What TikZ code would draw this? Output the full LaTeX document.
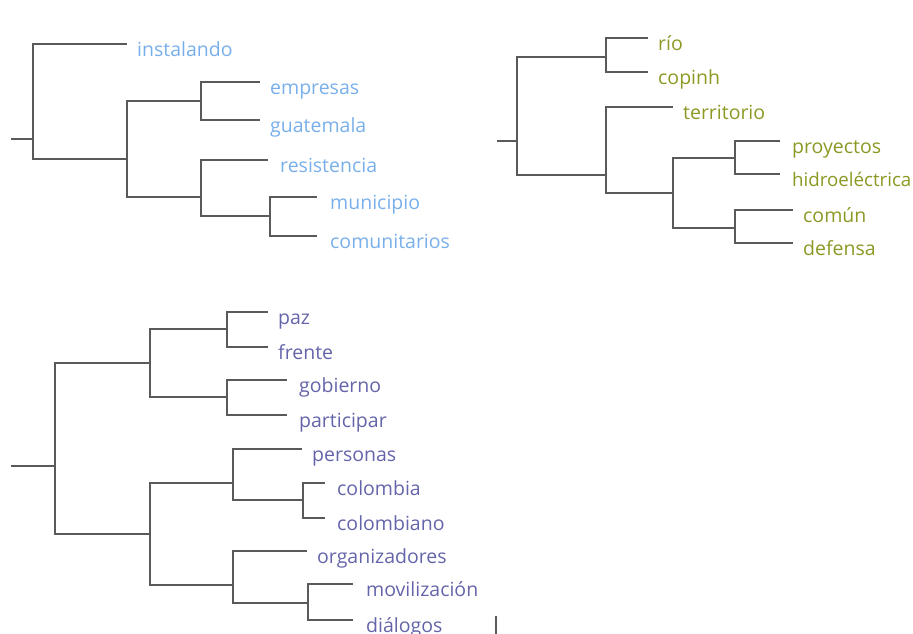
\documentclass[tikz,border=0pt]{standalone}
\usepackage{fontspec}
\setmainfont{Open Sans}
\usepackage{tikz}
\usetikzlibrary{positioning,calc}
\definecolor{myblue}{RGB}{120,175,235}
\definecolor{myolive}{RGB}{140,152,35}
\definecolor{mypurple}{RGB}{100,100,170}
\definecolor{mygray}{RGB}{90,90,90}

\begin{document}
\begin{tikzpicture}[x=1pt, y=-1pt,
    branch/.style={draw=mygray, line width=2.5pt},
    leaf/.style={anchor=base west, inner sep=0pt,
                 font=\fontsize{19.5}{22}\selectfont}]
  \useasboundingbox (0,0) rectangle (913,634);

  % first tree (blue)
  \coordinate (a0) at (11,139);
  \coordinate (a1) at (33,139);
  \coordinate (a2) at (127,159);
  \coordinate (a3) at (201,101);
  \coordinate (a4) at (201,197);
  \coordinate (a5) at (270,216);
  \foreach \n/\x/\y/\lx/\t in {la1/127/44/137/instalando, la2/260/82/270/empresas,
      la3/260/120/270/guatemala, la4/268/160/280/resistencia,
      la5/317/197/330/municipio, la6/317/236/330/comunitarios}{
    \coordinate (\n) at (\x,\y);
    \node[leaf, text=myblue] (\n-t) at (\lx,\y+12.5) {\t};
  }
  \draw[branch] (a0) -- (a1);
  \foreach \p/\c in {a1/la1, a1/a2, a2/a3, a2/a4, a3/la2, a3/la3,
      a4/la4, a4/a5, a5/la5, a5/la6}
    \draw[branch] (\p) |- (\c);

  % second tree (olive)
  \coordinate (b0) at (497,141);
  \coordinate (b1) at (517,141);
  \coordinate (b2) at (606,57);
  \coordinate (b3) at (606,175);
  \coordinate (b4) at (673,193);
  \coordinate (b5) at (735,158);
  \coordinate (b6) at (735,228);
  \foreach \n/\x/\y/\lx/\t in {lb1/648/38/658/río, lb2/648/72/658/copinh,
      lb3/673/107/683/territorio, lb4/780/141/792/proyectos,
      lb5/780/174/792/{\fontsize{18.7}{21}\selectfont hidroeléctrica},
      lb6/793/210/803/común, lb7/793/243/803/defensa}{
    \coordinate (\n) at (\x,\y);
    \node[leaf, text=myolive] (\n-t) at (\lx,\y+12.5) {\t};
  }
  \draw[branch] (b0) -- (b1);
  \foreach \p/\c in {b1/b2, b1/b3, b2/lb1, b2/lb2, b3/lb3, b3/b4,
      b4/b5, b4/b6, b5/lb4, b5/lb5, b6/lb6, b6/lb7}
    \draw[branch] (\p) |- (\c);

  % third tree (purple)
  \coordinate (c0) at (11,466);
  \coordinate (c1) at (55,466);
  \coordinate (c2) at (150,363);
  \coordinate (c3) at (227,329);
  \coordinate (c4) at (227,397);
  \coordinate (c5) at (150,534);
  \coordinate (c6) at (233,483);
  \coordinate (c7) at (303,500);
  \coordinate (c8) at (233,585);
  \coordinate (c9) at (308,603);
  \foreach \n/\x/\y/\lx/\t in {lc1/268/312/278/paz, lc2/268/347/278/frente,
      lc3/287/380/299/gobierno, lc4/287/415/299/participar,
      lc5/302/449/312/personas, lc6/325/483/337/colombia,
      lc7/325/518/337/colombiano, lc8/307/551/317/organizadores,
      lc9/353/584/366/movilización, lc10/353/620/366/diálogos}{
    \coordinate (\n) at (\x,\y);
    \node[leaf, text=mypurple] (\n-t) at (\lx,\y+12.5) {\t};
  }
  \draw[branch] (c0) -- (c1);
  \foreach \p/\c in {c1/c2, c1/c5, c2/c3, c2/c4, c3/lc1, c3/lc2,
      c4/lc3, c4/lc4, c5/c6, c5/c8, c6/lc5, c6/c7, c7/lc6, c7/lc7,
      c8/lc8, c8/c9, c9/lc9, c9/lc10}
    \draw[branch] (\p) |- (\c);

  \draw[mygray, line width=1.5pt] (496,616) -- (496,634);
\end{tikzpicture}
\end{document}
